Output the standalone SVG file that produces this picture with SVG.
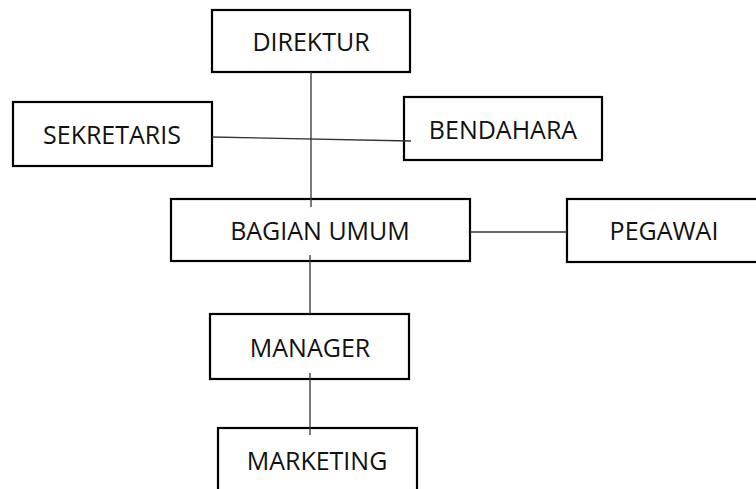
<svg xmlns="http://www.w3.org/2000/svg" width="756" height="489" viewBox="0 0 756 489">
<style>
.box{fill:#fff;stroke:#000;stroke-width:2.2}
.lbl{font-family:"Open Sans","Liberation Sans",sans-serif;font-size:25px;fill:#111;text-anchor:middle}
.con{stroke:#333;stroke-width:1.3;fill:none}
</style>
<rect width="756" height="489" fill="#fff"/>
<g id="direktur"><rect class="box" x="212" y="10" width="198" height="62"/><text class="lbl" x="311" y="51">DIREKTUR</text></g>
<g id="sekretaris"><rect class="box" x="13" y="102" width="199" height="64"/><text class="lbl" x="112" y="144">SEKRETARIS</text></g>
<g id="bendahara"><rect class="box" x="404" y="97" width="198" height="63"/><text class="lbl" x="503" y="139">BENDAHARA</text></g>
<g id="bagian-umum"><rect class="box" x="171" y="199" width="299" height="62"/><text class="lbl" x="320" y="240">BAGIAN UMUM</text></g>
<g id="pegawai"><rect class="box" x="567" y="199" width="196" height="63"/><text class="lbl" x="664" y="240">PEGAWAI</text></g>
<g id="manager"><rect class="box" x="210" y="314" width="199" height="65"/><text class="lbl" x="310" y="357">MANAGER</text></g>
<g id="marketing"><rect class="box" x="218" y="428" width="199" height="70"/><text class="lbl" x="317" y="470">MARKETING</text></g>
<g id="connectors">
<line class="con" x1="311" y1="72" x2="311" y2="207"/>
<line class="con" x1="212" y1="137" x2="411" y2="141"/>
<line class="con" x1="470" y1="232" x2="567" y2="232"/>
<line class="con" x1="310" y1="255" x2="310" y2="314"/>
<line class="con" x1="310" y1="373" x2="310" y2="435"/>
</g>
</svg>
